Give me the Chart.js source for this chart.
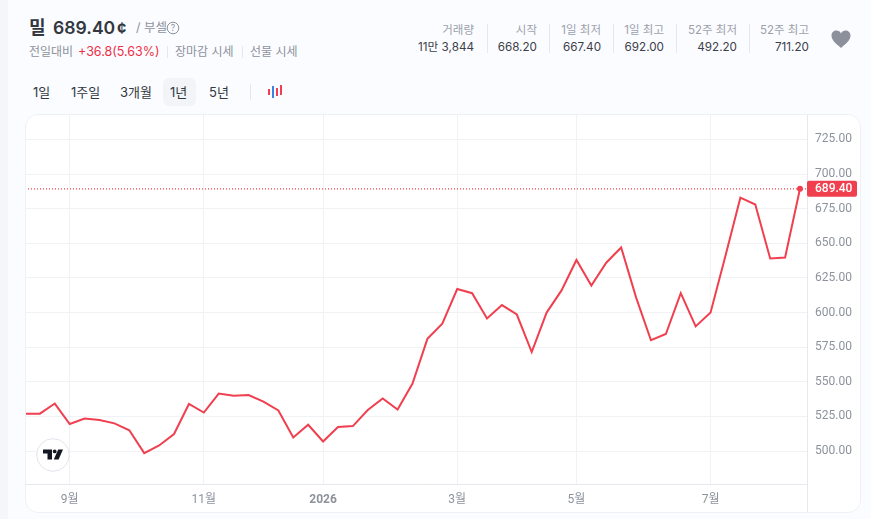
<!DOCTYPE html>
<html lang="ko">
<head>
<meta charset="utf-8">
<title>밀 시세</title>
<script src="https://cdn.jsdelivr.net/npm/chart.js@4"></script>
<style>
  html, body { margin: 0; padding: 0; }
  body { width: 871px; height: 519px; position: relative; overflow: hidden; background: #fbfcff;
    font-family: Inter, "Noto Sans CJK KR", sans-serif; color: #333840; }
  #strip { position: absolute; left: 0; top: 0; width: 8px; height: 519px; background: #f5f6fa; }
  .t { position: absolute; white-space: nowrap; line-height: 16px; }
  .gray { color: #8d929c; font-size: 12px; }
  .lab { color: #9ca1ab; font-size: 11.5px; }
  .val { color: #3b4048; font-size: 11.7px; }
  .tab { color: #333840; font-size: 13px; top: 84px; }
  .sep { position: absolute; width: 1px; background: #e6e8ed; }
  #pill { position: absolute; left: 163px; top: 78px; width: 33px; height: 28px; background: #f3f4f7; border-radius: 6px; }
  #card { position: absolute; left: 25px; top: 114px; width: 836px; height: 399px; background: #fff;
    border-radius: 13px; overflow: hidden; }
  #cardEdge { position: absolute; left: 25px; top: 114px; width: 834px; height: 397px;
    border: 1px solid #eef0f5; border-radius: 13px; }
  #chartCanvas { display: block; }
  #tvlogo { position: absolute; left: 36px; top: 438px; width: 34px; height: 34px; }
</style>
</head>
<body>
<div id="strip"></div>

<div class="t" style="left:29px;top:18px;font-size:18px;line-height:20px;font-weight:700;">밀</div>
<div class="t" style="left:53px;top:18px;font-size:17.6px;line-height:20px;font-weight:600;">689.40</div>
<div class="t" style="left:117px;top:18px;font-size:16px;line-height:20px;font-weight:700;">¢</div>
<div class="t gray" style="left:136px;top:20px;font-size:12.5px;">/ 부셀</div>
<svg style="position:absolute;left:166px;top:21px" width="14" height="14" viewBox="0 0 14 14">
  <circle cx="7" cy="7" r="5.8" fill="none" stroke="#8d929c" stroke-width="1"/>
  <text x="7" y="10" font-size="8.5" text-anchor="middle" fill="#8d929c" font-family="Inter">?</text>
</svg>

<div class="t gray" style="left:29px;top:44px;">전일대비</div>
<div class="t" style="left:78px;top:44px;font-size:12.5px;color:#ee2f45;">+36.8(5.63%)</div>
<div class="sep" style="left:167px;top:46px;height:12px;"></div>
<div class="t gray" style="left:175px;top:44px;">장마감 시세</div>
<div class="sep" style="left:242px;top:46px;height:12px;"></div>
<div class="t gray" style="left:250px;top:44px;">선물 시세</div>

<div id="pill"></div>
<div class="t tab" style="left:33px;">1일</div>
<div class="t tab" style="left:71px;">1주일</div>
<div class="t tab" style="left:120px;">3개월</div>
<div class="t tab" style="left:170px;">1년</div>
<div class="t tab" style="left:209px;">5년</div>
<div class="sep" style="left:250px;top:84px;height:16px;"></div>
<svg style="position:absolute;left:268px;top:85px" width="14" height="14" viewBox="0 0 14 14">
  <rect x="0" y="4" width="2" height="6" fill="#ee3f55"/>
  <rect x="4" y="1" width="2" height="12" fill="#3b82e8"/>
  <rect x="8" y="3" width="2" height="8" fill="#ee3f55"/>
  <rect x="12" y="0" width="2" height="10" fill="#ee3f55"/>
</svg>

<div class="t lab" style="right:397px;top:22px;">거래량</div>
<div class="t val" style="right:397px;top:39px;">11만 3,844</div>
<div class="sep" style="left:487px;top:24px;height:29px;"></div>
<div class="t lab" style="right:334px;top:22px;">시작</div>
<div class="t val" style="right:334px;top:39px;">668.20</div>
<div class="sep" style="left:549px;top:24px;height:29px;"></div>
<div class="t lab" style="right:270px;top:22px;">1일 최저</div>
<div class="t val" style="right:270px;top:39px;">667.40</div>
<div class="sep" style="left:613px;top:24px;height:29px;"></div>
<div class="t lab" style="right:207px;top:22px;">1일 최고</div>
<div class="t val" style="right:207px;top:39px;">692.00</div>
<div class="sep" style="left:676px;top:24px;height:29px;"></div>
<div class="t lab" style="right:134px;top:22px;">52주 최저</div>
<div class="t val" style="right:134px;top:39px;">492.20</div>
<div class="sep" style="left:749px;top:24px;height:29px;"></div>
<div class="t lab" style="right:62px;top:22px;">52주 최고</div>
<div class="t val" style="right:62px;top:39px;">711.20</div>
<svg style="position:absolute;left:831px;top:30px" width="20" height="19" viewBox="0 0 20 19">
  <path d="M10 18 C4 13 0.5 10 0.5 5.6 C0.5 2.6 2.8 0.6 5.4 0.6 C7.3 0.6 9 1.6 10 3.4 C11 1.6 12.7 0.6 14.6 0.6 C17.2 0.6 19.5 2.6 19.5 5.6 C19.5 10 16 13 10 18 Z" fill="#8b909b"/>
</svg>

<div id="card"><canvas id="chartCanvas" width="836" height="399"></canvas></div>
<div id="cardEdge"></div>

<svg id="tvlogo" viewBox="0 0 34 34">
  <circle cx="17" cy="17" r="16.3" fill="#fff" stroke="#e3e3ec" stroke-width="1"/>
  <path d="M7 11.5 H16 V21.5 H11.5 V15.5 H7 Z" fill="#131722"/>
  <circle cx="18.7" cy="13.4" r="1.9" fill="#131722"/>
  <path d="M22.2 11.5 H27 L22.6 21.5 H17.8 Z" fill="#131722"/>
</svg>

<script>
// weekly close, one value per week
const prices = [527, 527, 534.3, 519.5, 523.5, 522.4, 520, 515, 498.5, 504, 512.3, 534, 527.8,
  541.5, 540, 540.5, 535.7, 529.3, 509.8, 519, 506.9, 517.3, 518, 529.6, 538, 530, 548.8,
  581, 592, 617, 614, 595.7, 605.4, 598.6, 571.5, 600, 616, 638, 619.5, 636, 647, 611, 580,
  584.5, 614, 590, 600, 641, 683, 678, 639, 639.8, 689.4];
const lastPrice = 689.4;
const yTicks = [500, 525, 550, 575, 600, 625, 650, 675, 700, 725];
const xTickWeeks = [3, 12, 20, 29, 37, 46];
const xTickLabels = ["9월", "11월", "2026", "3월", "5월", "7월"];

const red = "#f0404f";
const gridColor = "#f1f2f5";
const axisColor = "#e6e8ed";
const xMax = 52.47;

// labels never overhang here, so drop the margins chart.js reserves for them
function noOverhang(axis) {
  axis.paddingLeft = axis.paddingRight = axis.paddingTop = axis.paddingBottom = 0;
}

// y axis border down to the card bottom and the price tag on the axis
const priceTag = {
  id: "priceTag",
  afterDraw(chart) {
    const c = chart.ctx;
    const x = chart.scales.x.right;
    const y = chart.scales.y.getPixelForValue(lastPrice);
    c.save();
    c.fillStyle = axisColor;
    c.fillRect(x, 0, 1, chart.height);
    c.fillStyle = red;
    c.beginPath();
    c.roundRect(x, y - 8, 50, 16, 2);
    c.fill();
    c.fillStyle = "#fff";
    c.font = "500 12px Roboto";
    c.textBaseline = "middle";
    c.fillText(lastPrice.toFixed(2), x + 8, y + 0.5);
    c.restore();
  }
};

new Chart(document.getElementById("chartCanvas"), {
  type: "line",
  data: {
    datasets: [{
      data: prices.map((p, i) => ({ x: i, y: p })),
      borderColor: red,
      borderWidth: 2,
      tension: 0,
      pointRadius: ctx => ctx.dataIndex === prices.length - 1 ? 3 : 0,
      pointBackgroundColor: red,
      pointBorderWidth: 0
    }, {
      data: [{ x: 0, y: lastPrice }, { x: xMax, y: lastPrice }],
      borderColor: red,
      borderWidth: 1.3,
      borderDash: [1, 2],
      pointRadius: 0
    }]
  },
  options: {
    responsive: false,
    animation: false,
    layout: { padding: 0, autoPadding: false },
    plugins: { legend: { display: false }, tooltip: { enabled: false } },
    scales: {
      x: {
        type: "linear",
        min: 0,
        max: xMax,
        afterBuildTicks: axis => { axis.ticks = xTickWeeks.map(v => ({ value: v })); },
        afterFit: axis => { axis.height = 29; noOverhang(axis); },
        grid: { color: gridColor, drawTicks: false },
        border: { color: axisColor },
        ticks: {
          autoSkip: false,
          maxRotation: 0,
          padding: 9,
          color: "#8d929c",
          font: ctx => ({
            family: "Roboto, 'Noto Sans CJK KR'",
            size: 12,
            weight: ctx.tick && ctx.tick.value === 20 ? "700" : "400"
          }),
          callback: v => xTickLabels[xTickWeeks.indexOf(v)]
        }
      },
      y: {
        position: "right",
        min: 476.2,
        max: 743.4,
        afterBuildTicks: axis => { axis.ticks = yTicks.map(v => ({ value: v })); },
        afterFit: axis => { axis.width = 54; noOverhang(axis); },
        grid: { color: gridColor, drawTicks: false },
        border: { color: axisColor },
        ticks: {
          padding: 8,
          color: "#8d929c",
          font: { family: "Roboto", size: 12 },
          callback: v => v.toFixed(2)
        }
      }
    }
  },
  plugins: [priceTag]
});
</script>
</body>
</html>
